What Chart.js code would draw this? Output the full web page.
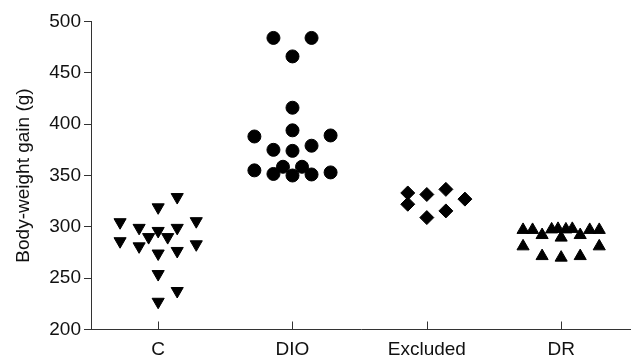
<!DOCTYPE html>
<html>
<head>
<meta charset="utf-8">
<script src="https://cdn.jsdelivr.net/npm/chart.js@4"></script>
<style>
  html, body { margin: 0; padding: 0; background: #fff; }
  #wrap { width: 631px; height: 359px; }
</style>
</head>
<body>
<div id="wrap"><canvas id="chart" width="631" height="359"></canvas></div>
<script>
// Group names along the x axis
const CATEGORIES = ['C', 'DIO', 'Excluded', 'DR'];

// Body-weight gain (g) of each animal, per group
const C_GAIN    = [329, 319, 304.5, 305.5, 299, 299, 296, 290, 290, 286, 283, 281, 276.5, 274, 254, 237.5, 227];
const DIO_GAIN  = [484, 484, 466, 416, 394, 388, 389, 375, 374, 379, 355, 353, 351.5, 358.5, 358.5, 350, 351];
const EXCL_GAIN = [333, 322, 331.5, 336.5, 327, 309, 315.5];
const DR_GAIN   = [297, 297, 297.5, 298, 297.5, 298, 297, 297, 292, 289.5, 292, 281, 281, 271.5, 270, 271.5];

// Y-axis tick values
const Y_TICKS = [200, 250, 300, 350, 400, 450, 500];

// Column-scatter layout: horizontal slot of each point (in half marker widths)
const C_SLOT    = [2, 0, -4, 4, -2, 2, 0, -1, 1, -4, 4, -2, 2, 0, 0, 2, 0];
const DIO_SLOT  = [-2, 2, 0, 0, 0, -4, 4, -2, 0, 2, -4, 4, -2, -1, 1, 0, 2];
const EXCL_SLOT = [-2, -2, 0, 2, 4, 0, 2];
const DR_SLOT   = [-4, -3, -1, -0.33, 0.5, 1.17, 3, 4, -2, 0, 2, -4, 4, -2, 0, 2];
const SLOT_STEP = 0.0709;

const FONT = { family: "'Liberation Sans', Arial, sans-serif", size: 19 };
const INK = '#111';
const AXIS = '#333';

function column(groupIndex, values, slots) {
  return values.map((v, i) => ({ x: groupIndex + 1 + slots[i] * SLOT_STEP, y: v }));
}

// Category tick marks point up into the plot area
const inwardTicks = {
  id: 'inwardTicks',
  afterDraw(chart) {
    const xs = chart.scales.x;
    const bottom = chart.chartArea.bottom;
    const ctx = chart.ctx;
    ctx.save();
    ctx.strokeStyle = AXIS;
    ctx.lineWidth = 1;
    CATEGORIES.forEach((c, i) => {
      const px = Math.round(xs.getPixelForValue(i + 1)) + 0.5;
      ctx.beginPath();
      ctx.moveTo(px, bottom);
      ctx.lineTo(px, bottom - 8);
      ctx.stroke();
    });
    ctx.restore();
  }
};

new Chart(document.getElementById('chart'), {
  type: 'scatter',
  data: {
    datasets: [
      { label: CATEGORIES[0], data: column(0, C_GAIN, C_SLOT), pointStyle: 'triangle', rotation: 180,
        pointRadius: 7, borderWidth: 1, backgroundColor: '#000', borderColor: '#000' },
      { label: CATEGORIES[1], data: column(1, DIO_GAIN, DIO_SLOT), pointStyle: 'circle',
        pointRadius: 6.5, borderWidth: 1, backgroundColor: '#000', borderColor: '#000' },
      { label: CATEGORIES[2], data: column(2, EXCL_GAIN, EXCL_SLOT), pointStyle: 'rectRot',
        pointRadius: 7, borderWidth: 1, backgroundColor: '#000', borderColor: '#000' },
      { label: CATEGORIES[3], data: column(3, DR_GAIN, DR_SLOT), pointStyle: 'triangle',
        pointRadius: 7, borderWidth: 1, backgroundColor: '#000', borderColor: '#000' }
    ]
  },
  options: {
    responsive: false,
    animation: false,
    layout: { autoPadding: false, padding: { top: 21.5, left: 0, right: 0, bottom: 0 } },
    plugins: { legend: { display: false }, tooltip: { enabled: false } },
    scales: {
      x: {
        type: 'linear',
        min: 0.5,
        max: 4.52,
        afterBuildTicks(scale) { scale.ticks = CATEGORIES.map((c, i) => ({ value: i + 1 })); },
        afterFit(scale) {
          scale.height = 29.5;
          scale.paddingLeft = 0;
          scale.paddingRight = 0;
        },
        grid: { display: false, drawTicks: false },
        border: { display: true, color: AXIS, width: 1 },
        ticks: {
          autoSkip: false,
          maxRotation: 0,
          padding: 9,
          color: INK,
          font: FONT,
          callback: (v) => CATEGORIES[Math.round(v) - 1]
        }
      },
      y: {
        min: 200,
        max: 500,
        afterBuildTicks(scale) { scale.ticks = Y_TICKS.map(v => ({ value: v })); },
        afterFit(scale) { scale.width = 91; },
        grid: { drawOnChartArea: false, drawTicks: true, tickLength: 7, color: AXIS },
        border: { display: true, color: AXIS, width: 1 },
        ticks: { padding: 3, color: INK, font: FONT },
        title: {
          display: true,
          text: 'Body-weight gain (g)',
          color: INK,
          font: FONT,
          padding: { top: 12, bottom: 0 }
        }
      }
    }
  },
  plugins: [inwardTicks]
});
</script>
</body>
</html>
